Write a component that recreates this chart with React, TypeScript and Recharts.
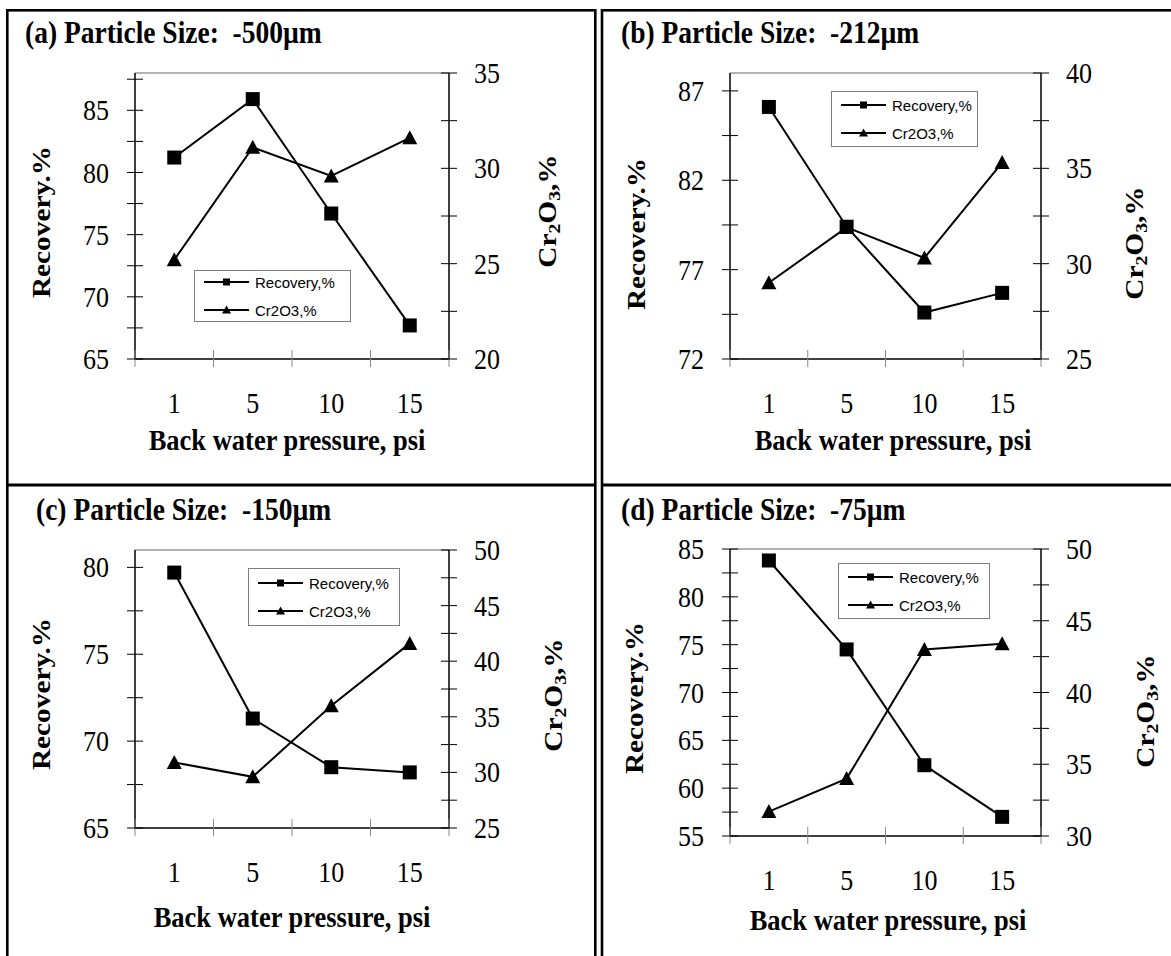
import { LineChart, Line, XAxis, YAxis, Legend, ReferenceLine } from "recharts";

const SERIF = "'Liberation Serif', 'Times New Roman', serif";
const SANS = "'Liberation Sans', Arial, sans-serif";
// the source figure is a little taller than wide, so glyphs get a vertical stretch
const STRETCH = 1.128;

// back water pressure, psi (x categories)
const PRESSURES = ["1", "5", "10", "15"];

// (a) -500um
const RECOVERY_A = [81.2, 85.9, 76.7, 67.7];
const CR2O3_A = [25.2, 31.1, 29.6, 31.6];
// (b) -212um
const RECOVERY_B = [86.1, 79.4, 74.6, 75.7];
const CR2O3_B = [29.0, 31.9, 30.3, 35.3];
// (c) -150um
const RECOVERY_C = [79.7, 71.3, 68.5, 68.2];
const CR2O3_C = [30.9, 29.6, 36.0, 41.6];
// (d) -75um
const RECOVERY_D = [83.8, 74.5, 62.4, 57.0];
const CR2O3_D = [31.7, 34.0, 43.0, 43.4];

const LEFT_TICKS_A = [65, 67.5, 70, 72.5, 75, 77.5, 80, 82.5, 85, 87.5];
const RIGHT_TICKS_A = [20, 22.5, 25, 27.5, 30, 32.5, 35];
const LEFT_TICKS_B = [72, 74.5, 77, 79.5, 82, 84.5, 87];
const RIGHT_TICKS_B = [25, 27.5, 30, 32.5, 35, 37.5, 40];
const LEFT_TICKS_C = [65, 67.5, 70, 72.5, 75, 77.5, 80];
const RIGHT_TICKS_C = [25, 27.5, 30, 32.5, 35, 37.5, 40, 42.5, 45, 47.5, 50];
const LEFT_TICKS_D = [55, 57.5, 60, 62.5, 65, 67.5, 70, 72.5, 75, 77.5, 80, 82.5, 85];
const RIGHT_TICKS_D = [30, 32.5, 35, 37.5, 40, 42.5, 45, 47.5, 50];

type Box = { x: number; y: number; w: number; h: number };
type Panel = {
  title: string;
  recovery: number[];
  cr2o3: number[];
  leftDomain: [number, number];
  leftTicks: number[];
  rightDomain: [number, number];
  rightTicks: number[];
  frame: Box;
  plot: { x0: number; x1: number; y0: number; y1: number };
  legend: Box;
  titleAt: [number, number];
  xTitleAt: [number, number];
  yTitleAt: [number, number];
  y2TitleAt: [number, number];
};

const PANELS: Panel[] = [
  {
    title: "(a) Particle Size:\u00a0 -500µm",
    recovery: RECOVERY_A,
    cr2o3: CR2O3_A,
    leftDomain: [65, 88],
    leftTicks: LEFT_TICKS_A,
    rightDomain: [20, 35],
    rightTicks: RIGHT_TICKS_A,
    frame: { x: 10, y: 11, w: 584, h: 472 },
    plot: { x0: 135, x1: 449, y0: 73, y1: 359 },
    legend: { x: 194, y: 270, w: 157, h: 52 },
    titleAt: [25, 43],
    xTitleAt: [287, 450],
    yTitleAt: [41, 222],
    y2TitleAt: [547, 211],
  },
  {
    title: "(b) Particle Size:\u00a0 -212µm",
    recovery: RECOVERY_B,
    cr2o3: CR2O3_B,
    leftDomain: [72, 88],
    leftTicks: LEFT_TICKS_B,
    rightDomain: [25, 40],
    rightTicks: RIGHT_TICKS_B,
    frame: { x: 603, y: 11, w: 568, h: 472 },
    plot: { x0: 730, x1: 1041, y0: 73, y1: 359 },
    legend: { x: 831, y: 91, w: 147, h: 56 },
    titleAt: [621, 43],
    xTitleAt: [893, 450],
    yTitleAt: [636, 234],
    y2TitleAt: [1134, 243],
  },
  {
    title: "(c) Particle Size:\u00a0 -150µm",
    recovery: RECOVERY_C,
    cr2o3: CR2O3_C,
    leftDomain: [65, 81],
    leftTicks: LEFT_TICKS_C,
    rightDomain: [25, 50],
    rightTicks: RIGHT_TICKS_C,
    frame: { x: 10, y: 487, w: 584, h: 469 },
    plot: { x0: 135, x1: 449, y0: 550, y1: 828 },
    legend: { x: 248, y: 568, w: 152, h: 58 },
    titleAt: [36, 520],
    xTitleAt: [292, 927],
    yTitleAt: [41, 694],
    y2TitleAt: [553, 695],
  },
  {
    title: "(d) Particle Size:\u00a0 -75µm",
    recovery: RECOVERY_D,
    cr2o3: CR2O3_D,
    leftDomain: [55, 85],
    leftTicks: LEFT_TICKS_D,
    rightDomain: [30, 50],
    rightTicks: RIGHT_TICKS_D,
    frame: { x: 603, y: 487, w: 568, h: 469 },
    plot: { x0: 730, x1: 1041, y0: 549, y1: 836 },
    legend: { x: 838, y: 563, w: 152, h: 56 },
    titleAt: [621, 520],
    xTitleAt: [888, 930],
    yTitleAt: [634, 698],
    y2TitleAt: [1145, 711],
  },
];

const AXIS_W = 60;
const AXIS_H = 60;

function squareDot(props: any) {
  const { cx, cy, index } = props;
  if (cx == null || cy == null) return <g key={`sq-${index}`} />;
  return <rect key={`sq-${index}`} x={cx - 7} y={cy - 7} width={14} height={14} fill="#000" />;
}

function triangleDot(props: any) {
  const { cx, cy, index } = props;
  if (cx == null || cy == null) return <g key={`tr-${index}`} />;
  return (
    <polygon
      key={`tr-${index}`}
      points={`${cx},${cy - 7.5} ${cx - 7.5},${cy + 6.5} ${cx + 7.5},${cy + 6.5}`}
      fill="#000"
    />
  );
}

function YTick(props: any) {
  const { x, y, payload, ticks, side } = props;
  const labelled = ticks.indexOf(payload.value) % 2 === 0;
  const tx = side === "left" ? x - 26 : x + 25;
  return (
    <g>
      <line x1={x - 8} x2={x + 8} y1={y} y2={y} stroke="#000" strokeWidth={1} />
      {labelled && (
        <text
          transform={`translate(${tx} ${y}) scale(1 ${STRETCH})`}
          textAnchor={side === "left" ? "end" : "start"}
          dominantBaseline="central"
          fontFamily={SERIF}
          fontSize={26}
          fill="#000"
        >
          {payload.value}
        </text>
      )}
    </g>
  );
}

function XTick(props: any) {
  const { x, y, payload, index, half, count } = props;
  return (
    <g>
      <line x1={x - half} x2={x - half} y1={y - 9} y2={y + 8} stroke="#888" strokeWidth={1} />
      {index === count - 1 && (
        <line x1={x + half} x2={x + half} y1={y - 9} y2={y + 8} stroke="#888" strokeWidth={1} />
      )}
      <text
        transform={`translate(${x} ${y + 54}) scale(1 ${STRETCH})`}
        textAnchor="middle"
        fontFamily={SERIF}
        fontSize={26}
        fill="#000"
      >
        {payload.value}
      </text>
    </g>
  );
}

function LegendBox({ box }: { box: Box }) {
  const r1 = box.h / 2 - 14;
  const r2 = box.h / 2 + 14;
  return (
    <svg width={box.w} height={box.h} style={{ display: "block" }}>
      <rect x={0.5} y={0.5} width={box.w - 1} height={box.h - 1} fill="#fff" stroke="#808080" />
      <line x1={10} x2={55} y1={r1} y2={r1} stroke="#000" strokeWidth={2} />
      <rect x={29} y={r1 - 3.5} width={7} height={7} fill="#000" />
      <text x={61} y={r1} dominantBaseline="central" fontFamily={SANS} fontSize={15} fill="#000">
        Recovery,%
      </text>
      <line x1={10} x2={55} y1={r2} y2={r2} stroke="#000" strokeWidth={2} />
      <polygon points={`32.5,${r2 - 4.5} 28,${r2 + 3.5} 37,${r2 + 3.5}`} fill="#000" />
      <text x={61} y={r2} dominantBaseline="central" fontFamily={SANS} fontSize={15} fill="#000">
        Cr2O3,%
      </text>
    </svg>
  );
}

function PanelChart({ panel }: { panel: Panel }) {
  const { frame, plot, legend } = panel;
  const rows = PRESSURES.map((p, i) => ({
    pressure: p,
    recovery: panel.recovery[i],
    cr2o3: panel.cr2o3[i],
  }));
  const margin = {
    left: plot.x0 - frame.x - AXIS_W,
    right: frame.x + frame.w - plot.x1 - AXIS_W,
    top: plot.y0 - frame.y,
    bottom: frame.y + frame.h - plot.y1 - AXIS_H,
  };
  const half = (plot.x1 - plot.x0) / (2 * PRESSURES.length);

  return (
    <div style={{ position: "absolute", left: frame.x, top: frame.y }}>
      <LineChart width={frame.w} height={frame.h} data={rows} margin={margin}>
        <XAxis
          dataKey="pressure"
          type="category"
          scale="band"
          height={AXIS_H}
          interval={0}
          tickLine={false}
          tickSize={0}
          tickMargin={0}
          stroke="#000"
          strokeWidth={1.5}
          tick={(p: any) => <XTick {...p} half={half} count={PRESSURES.length} />}
        />
        <YAxis
          yAxisId="left"
          domain={panel.leftDomain}
          ticks={panel.leftTicks}
          allowDataOverflow
          interval={0}
          width={AXIS_W}
          tickLine={false}
          tickSize={0}
          tickMargin={0}
          stroke="#000"
          strokeWidth={1.5}
          tick={(p: any) => <YTick {...p} ticks={panel.leftTicks} side="left" />}
        />
        <YAxis
          yAxisId="right"
          orientation="right"
          domain={panel.rightDomain}
          ticks={panel.rightTicks}
          allowDataOverflow
          interval={0}
          width={AXIS_W}
          tickLine={false}
          tickSize={0}
          tickMargin={0}
          stroke="#000"
          strokeWidth={1.5}
          tick={(p: any) => <YTick {...p} ticks={panel.rightTicks} side="right" />}
        />
        <ReferenceLine yAxisId="left" y={panel.leftDomain[1]} stroke="#999" strokeWidth={1.5} />
        <Legend
          layout="vertical"
          align="center"
          verticalAlign="middle"
          wrapperStyle={{
            left: legend.x - frame.x,
            top: legend.y - frame.y,
            width: legend.w,
            height: legend.h,
          }}
          content={() => <LegendBox box={legend} />}
        />
        <Line
          yAxisId="left"
          dataKey="recovery"
          name="Recovery,%"
          stroke="#000"
          strokeWidth={2}
          dot={squareDot}
          activeDot={false}
          isAnimationActive={false}
        />
        <Line
          yAxisId="right"
          dataKey="cr2o3"
          name="Cr2O3,%"
          stroke="#000"
          strokeWidth={2}
          dot={triangleDot}
          activeDot={false}
          isAnimationActive={false}
        />
      </LineChart>
    </div>
  );
}

function PanelTexts({ panel }: { panel: Panel }) {
  const [tx, ty] = panel.titleAt;
  const [xx, xy] = panel.xTitleAt;
  const [lx, ly] = panel.yTitleAt;
  const [rx, ry] = panel.y2TitleAt;
  return (
    <g fontFamily={SERIF} fontWeight="bold" fill="#000">
      <text transform={`translate(${tx} ${ty}) scale(1 ${STRETCH})`} fontSize={27.5}>
        {panel.title}
      </text>
      <text
        transform={`translate(${xx} ${xy}) scale(1 ${STRETCH})`}
        fontSize={26.5}
        textAnchor="middle"
      >
        Back water pressure, psi
      </text>
      <text
        transform={`translate(${lx} ${ly}) rotate(-90) scale(${STRETCH} 1)`}
        fontSize={26}
        textAnchor="middle"
        dominantBaseline="central"
      >
        Recovery.%
      </text>
      <text
        transform={`translate(${rx} ${ry}) rotate(-90) scale(${STRETCH} 1)`}
        fontSize={26}
        textAnchor="middle"
        dominantBaseline="central"
      >
        <tspan>Cr</tspan>
        <tspan fontSize={17.5} dy={6.5}>2</tspan>
        <tspan dy={-6.5}>O</tspan>
        <tspan fontSize={17.5} dy={6.5}>3</tspan>
        <tspan dy={-6.5}>,%</tspan>
      </text>
    </g>
  );
}

export default function App() {
  return (
    <div
      style={{
        position: "absolute",
        left: 0,
        top: 0,
        width: 1171,
        height: 956,
        background: "#fff",
        overflow: "hidden",
      }}
    >
      {PANELS.map((p) => (
        <PanelChart key={p.title} panel={p} />
      ))}
      <svg
        width={1171}
        height={956}
        style={{ position: "absolute", left: 0, top: 0, pointerEvents: "none" }}
      >
        {/* table-like frame: two columns with a double rule between them */}
        <rect x={7.3} y={10.3} width={588} height={980} fill="none" stroke="#000" strokeWidth={2.6} />
        <rect x={602} y={10.3} width={600} height={980} fill="none" stroke="#000" strokeWidth={2.6} />
        <line x1={7} x2={595.5} y1={485} y2={485} stroke="#000" strokeWidth={3} />
        <line x1={602} x2={1171} y1={485} y2={485} stroke="#000" strokeWidth={3} />
        {PANELS.map((p) => (
          <PanelTexts key={p.title} panel={p} />
        ))}
      </svg>
    </div>
  );
}
